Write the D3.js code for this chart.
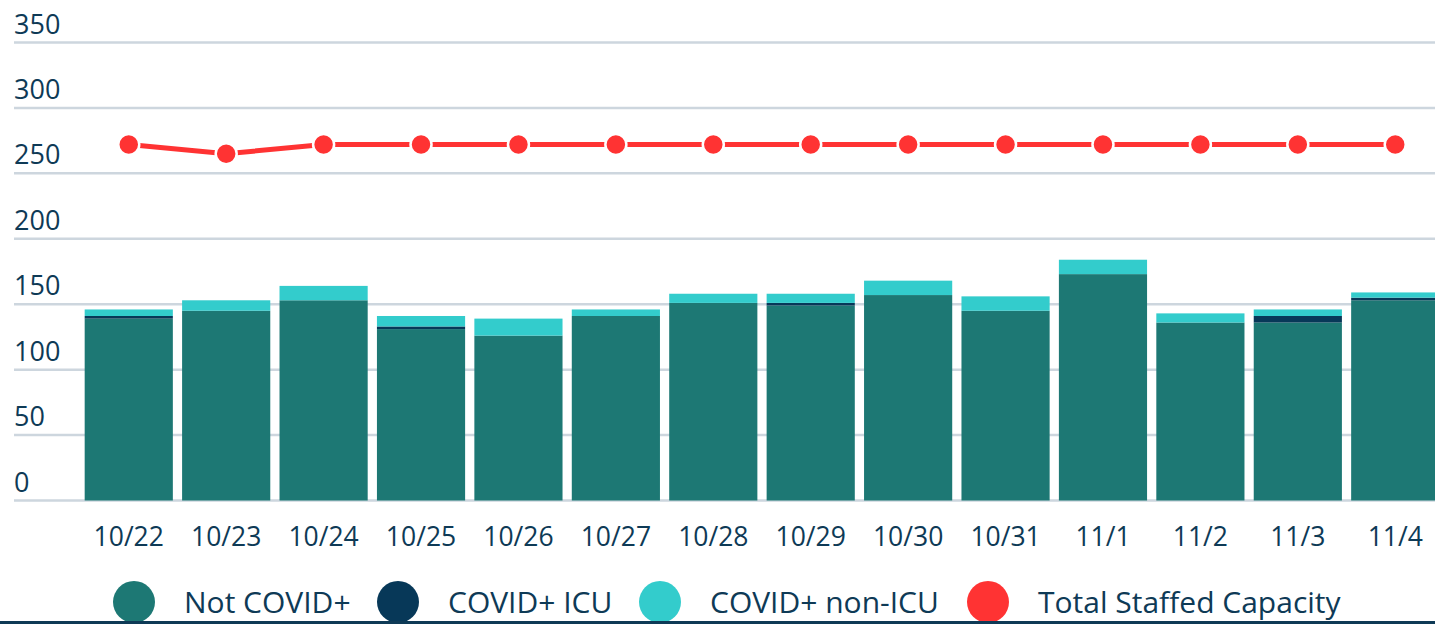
<!DOCTYPE html>
<html>
<head>
<meta charset="utf-8">
<script src="https://cdn.jsdelivr.net/npm/d3@7"></script>
<style>
  html, body { margin: 0; padding: 0; background: #fff; overflow: hidden; }
  svg { display: block; font-family: "Open Sans", sans-serif; }
</style>
</head>
<body>
<svg id="chart"></svg>
<script>
var width = 1435,
    height = 624,
    textColor = '#0e3a56';

var dates = ['10/22', '10/23', '10/24', '10/25', '10/26', '10/27', '10/28',
             '10/29', '10/30', '10/31', '11/1', '11/2', '11/3', '11/4'];
var notCovid = [139, 145, 153, 131, 126, 141, 151, 149, 157, 145, 173, 136, 136, 153];
var covidIcu = [2, 0, 0, 2, 0, 0, 0, 2, 0, 0, 0, 0, 5, 2];
var covidNonIcu = [5, 8, 11, 8, 13, 5, 7, 7, 11, 11, 11, 7, 5, 4];
var capacity = [272, 265, 272, 272, 272, 272, 272, 272, 272, 272, 272, 272, 272, 272];
var yTicks = [0, 50, 100, 150, 200, 250, 300, 350];

var seriesNames = ['Not COVID+', 'COVID+ ICU', 'COVID+ non-ICU', 'Total Staffed Capacity'];
var seriesColors = ['#1d7874', '#073858', '#33cccc', '#ff3333'];

var svg = d3.select('svg#chart')
    .attr('width', width)
    .attr('height', height);

var x = d3.scaleBand()
    .domain(dates)
    .range([80, 1444])
    .paddingInner(0.095)
    .paddingOuter(0.048);

var y = d3.scaleLinear()
    .domain([0, 350])
    .range([500.5, 42.5]);

// grid + y labels
var grid = svg.append('g');
yTicks.forEach(function (t) {
    grid.append('line')
        .attr('x1', 14)
        .attr('x2', width)
        .attr('y1', y(t))
        .attr('y2', y(t))
        .attr('stroke', '#cdd6de')
        .attr('stroke-width', 2.5);
    grid.append('text')
        .attr('x', 14)
        .attr('y', y(t) - 9)
        .attr('fill', textColor)
        .attr('font-size', '27px')
        .text(t);
});

// stacked bars
var rows = dates.map(function (d, i) {
    return { date: d, notCovid: notCovid[i], covidIcu: covidIcu[i], covidNonIcu: covidNonIcu[i] };
});
var stack = d3.stack().keys(['notCovid', 'covidIcu', 'covidNonIcu']);
var layers = stack(rows);

svg.append('g').selectAll('g')
    .data(layers)
    .join('g')
    .attr('fill', function (d, i) { return seriesColors[i]; })
    .selectAll('rect')
    .data(function (d) { return d; })
    .join('rect')
    .attr('x', function (d) { return x(d.data.date); })
    .attr('width', x.bandwidth())
    .attr('y', function (d) { return y(d[1]); })
    .attr('height', function (d) { return y(d[0]) - y(d[1]); });

// x labels
svg.append('g').selectAll('text')
    .data(dates)
    .join('text')
    .attr('x', function (d) { return x(d) + x.bandwidth() / 2; })
    .attr('y', 546)
    .attr('text-anchor', 'middle')
    .attr('fill', textColor)
    .attr('font-size', '26.5px')
    .text(function (d) { return d; });

// capacity line
var line = d3.line()
    .x(function (d, i) { return x(dates[i]) + x.bandwidth() / 2; })
    .y(function (d) { return y(d); });

svg.append('path')
    .datum(capacity)
    .attr('d', line)
    .attr('fill', 'none')
    .attr('stroke', seriesColors[3])
    .attr('stroke-width', 5);

svg.append('g').selectAll('circle')
    .data(capacity)
    .join('circle')
    .attr('cx', function (d, i) { return x(dates[i]) + x.bandwidth() / 2; })
    .attr('cy', function (d) { return y(d); })
    .attr('r', 10.5)
    .attr('fill', seriesColors[3])
    .attr('stroke', '#fff')
    .attr('stroke-width', 2.5);

// legend
var legendX = [134, 398, 660, 988];
var legend = svg.append('g');
seriesNames.forEach(function (name, i) {
    legend.append('circle')
        .attr('cx', legendX[i])
        .attr('cy', 602)
        .attr('r', 21)
        .attr('fill', seriesColors[i]);
    legend.append('text')
        .attr('x', legendX[i] + 50)
        .attr('y', 613)
        .attr('fill', textColor)
        .attr('font-size', '30px')
        .text(name);
});

svg.append('rect')
    .attr('x', 0)
    .attr('y', 621)
    .attr('width', width)
    .attr('height', 3)
    .attr('fill', textColor);
</script>
</body>
</html>
